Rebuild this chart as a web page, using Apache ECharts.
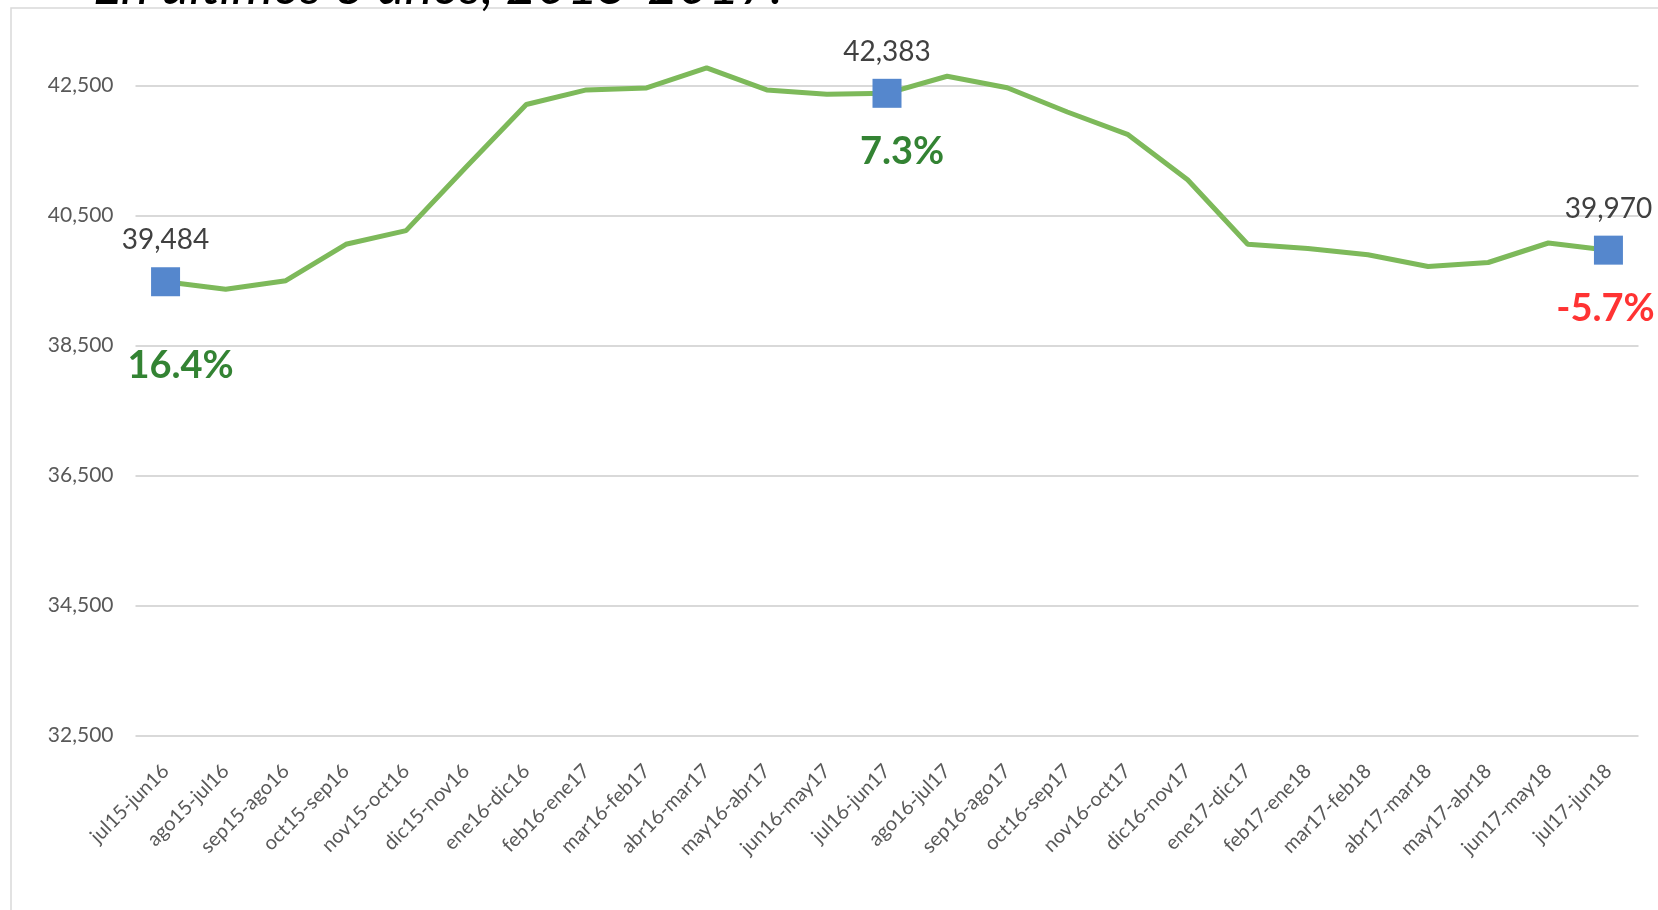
<!DOCTYPE html>
<html>
<head>
<meta charset="utf-8">
<script src="https://cdn.jsdelivr.net/npm/echarts@6/dist/echarts.min.js"></script>
<style>
  html, body { margin: 0; padding: 0; background: #fff; }
  #chart { width: 1658px; height: 910px; }
</style>
</head>
<body>
<div id="chart"></div>
<script>
// periodos (años móviles)
var categories = [
  'jul15-jun16', 'ago15-jul16', 'sep15-ago16', 'oct15-sep16', 'nov15-oct16',
  'dic15-nov16', 'ene16-dic16', 'feb16-ene17', 'mar16-feb17', 'abr16-mar17',
  'may16-abr17', 'jun16-may17', 'jul16-jun17', 'ago16-jul17', 'sep16-ago17',
  'oct16-sep17', 'nov16-oct17', 'dic16-nov17', 'ene17-dic17', 'feb17-ene18',
  'mar17-feb18', 'abr17-mar18', 'may17-abr18', 'jun17-may18', 'jul17-jun18'
];
var values = [
  39484, 39370, 39500, 40060, 40270,
  41250, 42210, 42435, 42465, 42775,
  42435, 42370, 42383, 42645, 42468,
  42095, 41752, 41052, 40060, 39996,
  39900, 39718, 39780, 40080, 39970
];
// puntos destacados y su variación
var keyIndex = [0, 12, 24];
var keyPct = ['16.4%', '7.3%', '-5.7%'];
var titleText = 'En últimos 3 años, 2015-2017.';

var chart = echarts.init(document.getElementById('chart'));

// posiciones de las etiquetas de porcentaje
var pctStyle = [
  { color: '#006400', offset: [15, 0], distance: 51 },
  { color: '#006400', offset: [15, 0], distance: 25 },
  { color: '#ff0000', offset: [-3, 0], distance: 25 }
];

var markerData = categories.map(function (c, i) {
  return keyIndex.indexOf(i) >= 0 ? values[i] : '-';
});
var pctData = categories.map(function (c, i) {
  var k = keyIndex.indexOf(i);
  if (k < 0) return '-';
  return {
    value: values[i],
    label: {
      formatter: keyPct[k],
      color: pctStyle[k].color,
      offset: pctStyle[k].offset,
      distance: pctStyle[k].distance
    }
  };
});

var option = {
  animation: false,
  textStyle: { fontFamily: 'Lato' },
  graphic: [
    {
      type: 'rect',
      z: -1,
      shape: { x: 11, y: 8, width: 1700, height: 1000 },
      style: { fill: 'none', stroke: '#d9d9d9', lineWidth: 1.5 }
    },
    {
      type: 'text',
      left: 93,
      top: -40,
      style: {
        text: titleText,
        font: 'italic 53px Lato',
        fill: '#000'
      }
    }
  ],
  grid: { left: 135.5, right: 19.5, top: 85.7, bottom: 174.3, containLabel: false },
  xAxis: {
    type: 'category',
    data: categories,
    boundaryGap: true,
    axisLine: { show: false },
    axisTick: { show: false },
    axisLabel: {
      rotate: 45,
      interval: 0,
      margin: 32,
      fontSize: 20,
      color: '#595959'
    }
  },
  yAxis: {
    type: 'value',
    min: 32500,
    max: 42500,
    interval: 2000,
    axisLine: { show: false },
    axisTick: { show: false },
    splitLine: { lineStyle: { color: '#d9d9d9', width: 2 } },
    axisLabel: {
      margin: 22,
      fontSize: 21,
      color: '#595959',
      formatter: function (v) { return echarts.format.addCommas(v); }
    }
  },
  series: [
    {
      type: 'line',
      data: values,
      clip: false,
      showSymbol: false,
      lineStyle: { color: '#7db95a', width: 5 },
      z: 2
    },
    {
      type: 'scatter',
      data: markerData,
      clip: false,
      symbol: 'rect',
      symbolSize: 29,
      itemStyle: { color: '#5587cd', opacity: 1 },
      z: 3,
      label: {
        show: true,
        position: 'top',
        distance: 13,
        fontSize: 28,
        color: '#404040',
        formatter: function (p) { return echarts.format.addCommas(p.value); }
      }
    },
    {
      type: 'scatter',
      data: pctData,
      clip: false,
      symbol: 'rect',
      symbolSize: 29,
      itemStyle: { color: 'transparent' },
      z: 3,
      label: {
        show: true,
        position: 'bottom',
        fontSize: 38,
        fontWeight: 'bold'
      }
    }
  ]
};

chart.setOption(option);
window.addEventListener('resize', function () { chart.resize(); });
</script>
</body>
</html>
